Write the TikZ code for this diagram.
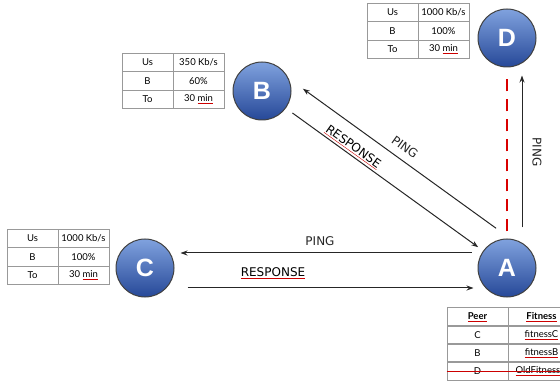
\documentclass[tikz,border=0pt]{standalone}
\usepackage{fontspec}
\setmainfont{Liberation Sans}
\newfontfamily\tabfont{Lato}
\newfontfamily\labelfont{DejaVu Sans}
\usetikzlibrary{arrows.meta}
\newcommand{\typo}[1]{\textcolor{red!80!black}{\underline{\textcolor{black}{#1}}}}

\begin{document}
\begin{tikzpicture}[
    x=1pt, y=-1pt,
    peer/.style={circle, draw=black!75, line width=1pt,
        top color={rgb,255:red,128;green,162;blue,222},
        bottom color={rgb,255:red,38;green,72;blue,152},
        minimum size=58pt, inner sep=0pt, text=white,
        font=\fontsize{25}{25}\selectfont\bfseries},
    cell/.style={draw=gray!80, line width=0.6pt, minimum width=51pt, minimum height=18.5pt,
        inner sep=0pt, font=\tabfont\fontsize{9.5}{10}\selectfont},
    head cell/.style={cell, font=\tabfont\fontsize{9.5}{10}\selectfont\bfseries},
    message/.style={-{Stealth[length=7pt, width=5pt]}, line width=1pt, black!85},
    msg label/.style={font=\labelfont\fontsize{12}{12}\selectfont, text=black!85},
    lost link/.style={dash pattern=on 12pt off 8pt, red!85!black, line width=1.5pt},
    strike/.style={red!80!black, line width=0.8pt}
]
\useasboundingbox (0,0) rectangle (560,382);

% Peers
\node[peer] (D) at (507,38) {D};
\node[peer] (B) at (262,91) {B};
\node[peer] (C) at (145,268) {C};
\node[peer] (A) at (507,268) {A};

% Table of D
\node[cell] (dUs) at (392.5,12.25) {Us};
\node[cell] (dUsV) at (443.5,12.25) {1000 Kb/s};
\node[cell] (dB) at (392.5,30.75) {B};
\node[cell] (dBV) at (443.5,30.75) {100\%};
\node[cell] (dTo) at (392.5,49.25) {To};
\node[cell] (dToV) at (443.5,49.25) {30 \typo{min}};

% Table of B
\node[cell] (bUs) at (147.5,62.25) {Us};
\node[cell] (bUsV) at (198.5,62.25) {350 Kb/s};
\node[cell] (bB) at (147.5,80.75) {B};
\node[cell] (bBV) at (198.5,80.75) {60\%};
\node[cell] (bTo) at (147.5,99.25) {To};
\node[cell] (bToV) at (198.5,99.25) {30 \typo{min}};

% Table of C
\node[cell] (cUs) at (32.5,238.25) {Us};
\node[cell] (cUsV) at (83.5,238.25) {1000 Kb/s};
\node[cell] (cB) at (32.5,256.75) {B};
\node[cell] (cBV) at (83.5,256.75) {100\%};
\node[cell] (cTo) at (32.5,275.25) {To};
\node[cell] (cToV) at (83.5,275.25) {30 \typo{min}};

% Fitness table of A
\node[head cell, minimum width=61pt] (pHead) at (477.5,317) {\typo{Peer}};
\node[head cell, minimum width=67pt] (fHead) at (541.5,317) {\typo{Fitness}};
\node[cell, minimum width=61pt] (pC) at (477.5,335) {C};
\node[cell, minimum width=67pt] (fC) at (541.5,335) {\typo{fitnessC}};
\node[cell, minimum width=61pt] (pB) at (477.5,353) {B};
\node[cell, minimum width=67pt] (fB) at (541.5,353) {\typo{fitnessB}};
\node[cell, minimum width=61pt] (pD) at (477.5,371) {D};
\node[cell, minimum width=67pt] (fD) at (541.5,371) {\typo{OldFitnessD}};
\draw[strike] (pD.west) -- (fD.east);

% Messages between A and C
\draw[message, shorten <=6pt, shorten >=6pt] ([yshift=15pt]A.west) -- ([yshift=15pt]C.east);
\draw[message, shorten <=13pt, shorten >=4pt] ([yshift=-20pt]C.east) -- ([yshift=-20pt]A.west);
\node[msg label] (pingC) at (320,241) {PING};
\node[msg label] (respC) at (273,273) {\typo{RESPONSE}};

% Messages between A and B
\draw[message, shorten <=32pt, shorten >=32pt] ([shift={(15,-21)}]A.center) -- ([shift={(15,-21)}]B.center);
\draw[message, shorten <=8pt, shorten >=6pt] (B) -- (A);
\node[msg label, rotate=-35.5] (pingB) at (405,147) {PING};
\node[msg label, rotate=-35.5] (respB) at (353,147) {\typo{RESPONSE}};

% A and D
\draw[message, shorten <=11pt, shorten >=8pt] ([xshift=15pt]A.north) -- ([xshift=15pt]D.south);
\draw[lost link, shorten <=7pt, shorten >=11pt] (A) -- (D);
\node[msg label, rotate=-90] (pingD) at (537,152) {PING};

\end{tikzpicture}
\end{document}
